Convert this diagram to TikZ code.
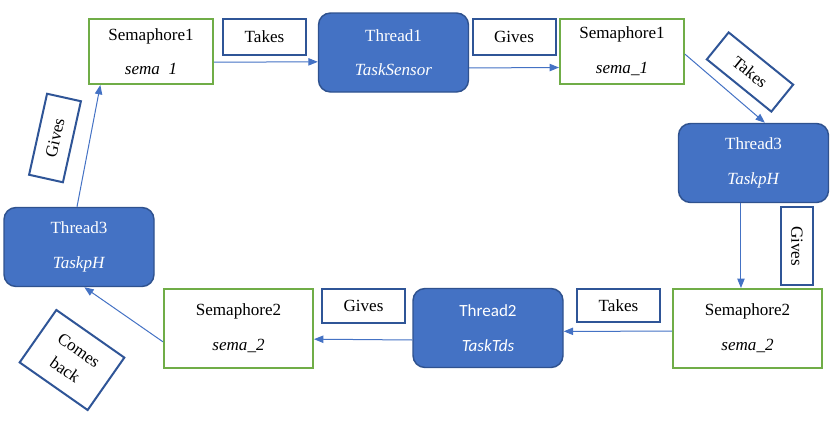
\documentclass[tikz,border=0pt]{standalone}
\usepackage{fontspec}
\setmainfont{Liberation Serif}
\newfontfamily\calibri{Carlito}
\usetikzlibrary{arrows.meta,positioning}

\definecolor{threadblue}{HTML}{4472C4}
\definecolor{threadedge}{HTML}{2F528F}
\definecolor{semgreen}{HTML}{70AD47}
\definecolor{tagedge}{HTML}{2F5597}

\begin{document}
\begin{tikzpicture}[auto,x=0.75pt,y=-0.75pt,>={Triangle[length=7pt,width=5.5pt]}]
	\tikzstyle{sem} = [draw=semgreen, line width=1.5pt, rectangle, align=center, inner sep=0pt, minimum width=93pt, minimum height=48.75pt, font=\fontsize{12.8}{26}\selectfont]
	\tikzstyle{bigsem} = [sem, minimum width=111.75pt, minimum height=59.25pt]
	\tikzstyle{thread} = [draw=threadedge, fill=threadblue, line width=1.1pt, rectangle, rounded corners=9pt, text=white, align=center, inner sep=0pt, minimum width=112.5pt, minimum height=59.25pt, font=\fontsize{12.8}{26}\selectfont]
	\tikzstyle{tag} = [draw=tagedge, line width=1.5pt, rectangle, align=center, inner sep=0pt, minimum width=62.25pt, minimum height=26pt, font=\fontsize{12.8}{18}\selectfont]
	\tikzstyle{link} = [->, threadblue, line width=0.75pt]

	\useasboundingbox (0,0) rectangle (840,425);

	% top row
	\node [sem] (sema1a) at (151,51.5) {Semaphore1\\ \textit{sema\hphantom{\_}1}};
	\node [thread] (thread1) at (393.5,52.5) {Thread1\\ \textit{TaskSensor}};
	\node [sem] (sema1b) at (622,51.5) {Semaphore1\\ \textit{sema\_1}};

	% right side
	\node [thread] (thread3a) at (753.5,163) {Thread3\\ \textit{TaskpH}};
	\node [bigsem] (sema2a) at (747.5,328.5) {Semaphore2\\ \textit{sema\_2}};

	% bottom row
	\node [thread, font=\calibri\fontsize{12.8}{26}\selectfont] (thread2) at (488,328) {Thread2\\ \textit{TaskTds}};
	\node [bigsem] (sema2b) at (238.5,328.5) {Semaphore2\\ \textit{sema\_2}};

	% left side
	\node [thread] (thread3b) at (79,247) {Thread3\\ \textit{TaskpH}};

	% labels
	\node [tag, minimum height=27pt] (takesa) at (264.5,37) {Takes};
	\node [tag, minimum height=27pt] (givesa) at (514,37) {Gives};
	\node [tag, rotate=-39] (takesb) at (750,72) {Takes};
	\node [tag, rotate=-90, minimum width=58.5pt, minimum height=24pt] (givesb) at (797,246) {Gives};
	\node [tag, minimum height=24.75pt] (takesc) at (618.5,305.5) {Takes};
	\node [tag, minimum height=25.5pt] (givesc) at (363.5,305.5) {Gives};
	\node [tag, rotate=-35, minimum height=48pt] (comes) at (72,360) {Comes\\back};
	\node [tag, rotate=77.5] (givesd) at (55,138) {Gives};

	\draw [link] ([yshift=-8pt]sema1a.east) -- ([yshift=-7pt]thread1.west);
	\draw [link] ([yshift=-11.6pt]thread1.east) -- ([yshift=-12pt]sema1b.west);
	\draw [link] ([yshift=-2pt]sema1b.east) -- ([xshift=8.5pt]thread3a.north);
	\draw [link] ([xshift=-9.4pt]thread3a.south) -- ([xshift=-4.9pt]sema2a.north);
	\draw [link] ([yshift=-2pt]sema2a.west) -- ([yshift=-2.5pt]thread2.east);
	\draw [link] ([yshift=-9pt]thread2.west) -- ([yshift=-8pt]sema2b.east);
	\draw [link] ([yshift=-10pt]sema2b.west) -- ([xshift=4pt]thread3b.south);
	\draw [link] ([xshift=-1.5pt]thread3b.north) -- ([xshift=-38pt]sema1a.south);
\end{tikzpicture}
\end{document}
